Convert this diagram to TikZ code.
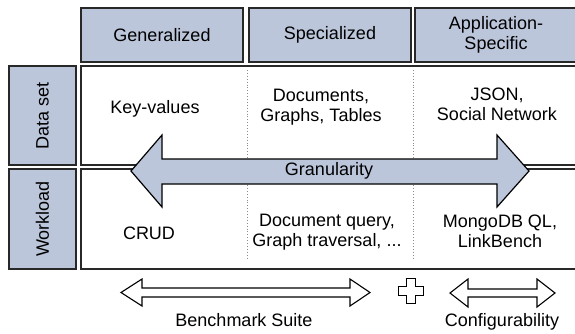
\documentclass[tikz,border=0pt]{standalone}
\usepackage{fontspec}
\setmainfont{Liberation Sans}
\definecolor{boxfill}{RGB}{188,198,219}
\definecolor{edge}{RGB}{40,40,40}
\tikzset{
  lbl/.style={font=\fontsize{18}{20}\selectfont, align=center, inner sep=0pt},
  hdr/.style={draw=edge, line width=1.6pt, fill=boxfill, minimum width=162pt, minimum height=54pt, inner sep=0pt, align=center, font=\fontsize{18}{20}\selectfont},
  side/.style={draw=edge, line width=1.6pt, fill=boxfill, minimum width=67pt, inner sep=0pt},
  cell/.style={draw=edge, line width=1.6pt, fill=white, minimum width=496pt, inner sep=0pt},
  sep/.style={draw=black!45, line width=0.9pt, dotted},
  bigarrow/.style={draw=black, line width=1.2pt, fill=boxfill, line join=miter},
  outarrow/.style={draw=black, line width=1.1pt, fill=white, line join=miter}
}
\begin{document}
\begin{tikzpicture}[x=1pt,y=-1pt]
\useasboundingbox (0,0) rectangle (575,333);
\clip (0,0) rectangle (575,333);
% header
\node[hdr] (gen) at (162,35) {Generalized};
\node[hdr] (spec) at (330,35) {Specialized};
\node[hdr] (app) at (496,35) {Application-\\Specific};
% side boxes
\node[side, minimum height=99pt] (dsbox) at (42.5,115.5) {};
\node[side, minimum height=100pt] (wlbox) at (42.5,219) {};
\node[lbl, rotate=90] (ds) at (dsbox.center) {Data set};
\node[lbl, rotate=90] (wl) at (wlbox.center) {Workload};
% cells
\node[cell, minimum height=99pt] (drow) at (329,115.5) {};
\node[cell, minimum height=100pt] (wrow) at (329,219) {};
% dotted separators
\draw[sep] (247,70) -- (247,160);
\draw[sep] (413,70) -- (413,160);
\draw[sep] (247,185) -- (247,260);
\draw[sep] (413,185) -- (413,260);
% texts
\node[lbl] (kv) at (155,109) {Key-values};
\node[lbl] (docs) at (321,107) {Documents,\\Graphs, Tables};
\node[lbl] (json) at (497,104) {JSON,\\Social Network};
\node[lbl] (crud) at (149,233) {CRUD};
\node[lbl] (dq) at (327,232) {Document query,\\Graph traversal, ...};
\node[lbl] (mongo) at (500,231) {MongoDB QL,\\LinkBench};
% granularity arrow
\draw[bigarrow] (131,171) -- (162,135) -- (162,159) -- (497,159) -- (497,135) -- (529,171) -- (497,207) -- (497,184) -- (162,184) -- (162,207) -- cycle;
\node[lbl] (gran) at (329,171) {Granularity};
% bottom arrows
\draw[outarrow] (121,292.5) -- (142,279) -- (142,288) -- (350,288) -- (350,279) -- (370,292.5) -- (350,306) -- (350,297) -- (142,297) -- (142,306) -- cycle;
\draw[outarrow] (450,293) -- (468,279) -- (468,289) -- (537,289) -- (537,279) -- (555,293) -- (537,307) -- (537,297) -- (468,297) -- (468,307) -- cycle;
\draw[outarrow] (406.5,278.5) -- (415.5,278.5) -- (415.5,286.5) -- (423.5,286.5) -- (423.5,295.5) -- (415.5,295.5) -- (415.5,303.5) -- (406.5,303.5) -- (406.5,295.5) -- (398.5,295.5) -- (398.5,286.5) -- (406.5,286.5) -- cycle;
\node[lbl, anchor=base] (bs) at (244,326) {Benchmark Suite};
\node[lbl, anchor=base] (conf) at (502,326) {Configurability};
\end{tikzpicture}
\end{document}
